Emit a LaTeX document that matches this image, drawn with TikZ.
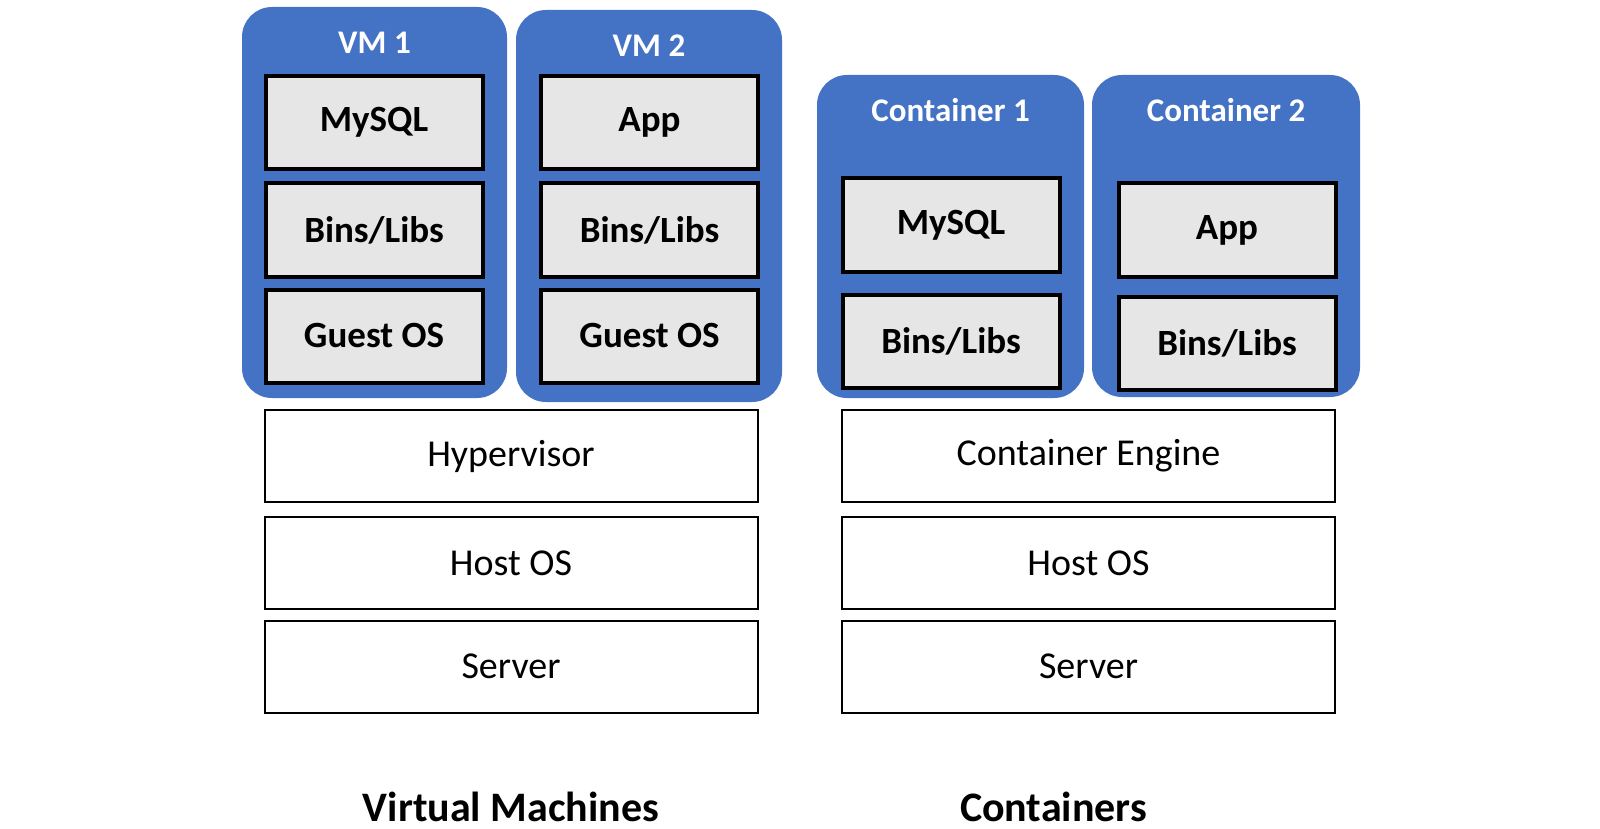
\documentclass[tikz,border=0pt]{standalone}
\usepackage{fontspec}
\setmainfont{Carlito}
\begin{document}
\begin{tikzpicture}[x=1pt, y=-1pt]
      \newcommand{\vmx}[0]{511}
      \newcommand{\ctx}[0]{1088.5}
      \newcommand{\rowa}[0]{456}
      \newcommand{\rowb}[0]{563}
      \newcommand{\rowc}[0]{666.5}
      
      \definecolor{vmblue}{HTML}{4472C4}
      \definecolor{boxgray}{HTML}{E7E6E6}
      
      \tikzstyle{shell}=[
        fill=vmblue,
        rounded corners=30pt,
        inner sep=0pt,
        anchor=center
      ]
      \tikzstyle{title}=[text=white, anchor=base, font=\fontsize{33}{40}\selectfont\bfseries]
      \tikzstyle{part}=[
        draw,
        fill=boxgray,
        line width=4pt,
        minimum width=217pt,
        minimum height=93pt,
        inner sep=0pt,
        anchor=center,
        font=\fontsize{37}{44}\selectfont\bfseries
      ]
      \tikzstyle{layer}=[draw, line width=2pt, minimum width=493pt, minimum height=92pt, inner sep=0pt, font=\fontsize{38}{46}\selectfont]
      \tikzstyle{caption}=[anchor=base, inner sep=0pt, font=\fontsize{42}{50}\selectfont\bfseries]
      
      \useasboundingbox (0,0) rectangle (1600,829);
      
      % virtual machines
      \node[shell, minimum width=265pt, minimum height=391pt] (vm1) at (374.5, 202.5) {};
      \node[shell, minimum width=266pt, minimum height=392pt] (vm2) at (649, 206) {};
      \node[title] (vm1title) at (374.5, 54) {VM 1};
      \node[title] (vm2title) at (649, 57) {VM 2};
      \node[part] (vm1app)  at (374, 122.5) {MySQL};
      \node[part] (vm1bins) at (374, 230)   {Bins/Libs};
      \node[part] (vm1os)   at (374, 336)   {Guest OS};
      \node[part] (vm2app)  at (649.5, 122.5) {App};
      \node[part] (vm2bins) at (649.5, 230)   {Bins/Libs};
      \node[part] (vm2os)   at (649.5, 336)   {Guest OS};
      
      % containers
      \node[shell, minimum width=267pt, minimum height=323pt] (ct1) at (950.5, 236.5) {};
      \node[shell, minimum width=268pt, minimum height=322pt] (ct2) at (1226, 236) {};
      \node[title] (ct1title) at (950.5, 122) {Container 1};
      \node[title] (ct2title) at (1226, 122)  {Container 2};
      \node[part] (ct1app)  at (951, 225)      {MySQL};
      \node[part] (ct1bins) at (951, 341.5)    {Bins/Libs};
      \node[part] (ct2app)  at (1227, 230)     {App};
      \node[part] (ct2bins) at (1227, 343.5)   {Bins/Libs};
      
      % layers
      \node[layer] (hyper)    at (\vmx, \rowa) {Hypervisor};
      \node[layer] (vmhost)   at (\vmx, \rowb) {Host OS};
      \node[layer] (vmserver) at (\vmx, \rowc) {Server};
      \node[layer] (engine)   at (\ctx, \rowa) {Container Engine};
      \node[layer] (cthost)   at (\ctx, \rowb) {Host OS};
      \node[layer] (ctserver) at (\ctx, \rowc) {Server};
      
      \node[caption] (vmcaption) at (511, 821)    {Virtual Machines};
      \node[caption] (ctcaption) at (1053.5, 821) {Containers};
    \end{tikzpicture}
\end{document}
